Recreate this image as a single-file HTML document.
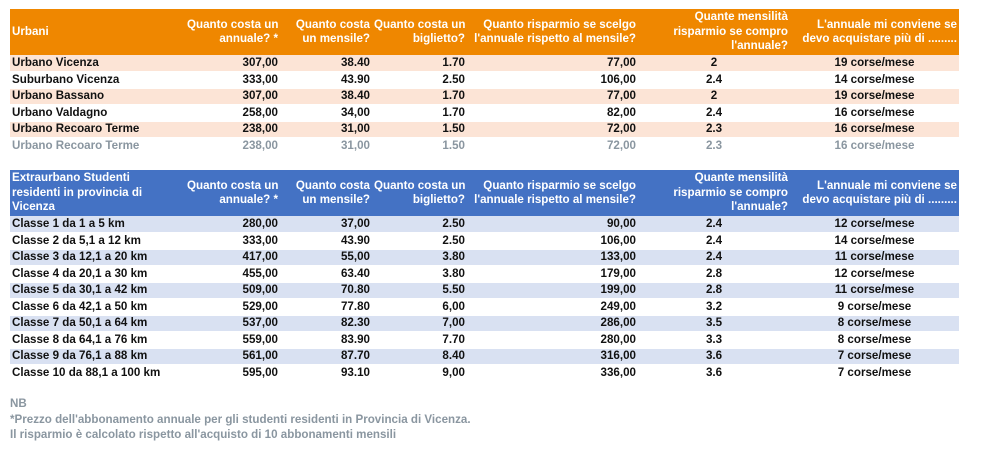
<!DOCTYPE html>
<html><head><meta charset="utf-8"><style>
body{margin:0;width:1004px;height:452px;background:#fff;font-family:"Liberation Sans",Arial,sans-serif;font-weight:bold;font-size:11.6px;color:#111;position:relative;overflow:hidden}
table{position:absolute;left:10px;border-collapse:collapse;table-layout:fixed;width:949px}
td{padding:0 2px;height:15.5px;line-height:14px;white-space:nowrap;overflow:hidden;border-bottom:1px solid #fff;box-sizing:border-box}
tr{height:16.5px}
td.r{text-align:right}td.c{text-align:center}
tr.h td{color:#fff;line-height:14.5px;vertical-align:middle;border:none;height:46px}
.o tr.h td{background:#ef8700}
.b tr.h td{background:#4472c4}
.o tr.a td{background:#fce4d6}
.b tr.a td{background:#d9e1f2}
tr.g td{color:#8a96a0}
.nb{position:absolute;left:10px;top:396px;color:#8a96a0;line-height:15.5px;font-size:11.6px}
</style></head><body>
<table class="o" style="top:9px">
<colgroup><col style="width:175px"><col style="width:95px"><col style="width:92px"><col style="width:95px"><col style="width:171px"><col style="width:152px"><col style="width:169px"></colgroup>
<tr class="h"><td>Urbani</td><td class="r">Quanto costa un<br>annuale? *</td><td class="r">Quanto costa<br>un mensile?</td><td class="r">Quanto costa un<br>biglietto?</td><td class="r">Quanto risparmio se scelgo<br>l'annuale rispetto al mensile?</td><td class="r">Quante mensilità<br>risparmio se compro<br>l'annuale?</td><td class="r">L'annuale mi conviene se<br>devo acquistare più di .........</td></tr>
<tr class="a"><td>Urbano Vicenza</td><td class="r">307,00</td><td class="r">38.40</td><td class="r">1.70</td><td class="r">77,00</td><td class="c">2</td><td class="c">19 corse/mese</td></tr>
<tr><td>Suburbano Vicenza</td><td class="r">333,00</td><td class="r">43.90</td><td class="r">2.50</td><td class="r">106,00</td><td class="c">2.4</td><td class="c">14 corse/mese</td></tr>
<tr class="a"><td>Urbano Bassano</td><td class="r">307,00</td><td class="r">38.40</td><td class="r">1.70</td><td class="r">77,00</td><td class="c">2</td><td class="c">19 corse/mese</td></tr>
<tr><td>Urbano Valdagno</td><td class="r">258,00</td><td class="r">34,00</td><td class="r">1.70</td><td class="r">82,00</td><td class="c">2.4</td><td class="c">16 corse/mese</td></tr>
<tr class="a"><td>Urbano Recoaro Terme</td><td class="r">238,00</td><td class="r">31,00</td><td class="r">1.50</td><td class="r">72,00</td><td class="c">2.3</td><td class="c">16 corse/mese</td></tr>
<tr class="g"><td>Urbano Recoaro Terme</td><td class="r">238,00</td><td class="r">31,00</td><td class="r">1.50</td><td class="r">72,00</td><td class="c">2.3</td><td class="c">16 corse/mese</td></tr>
</table>
<table class="b" style="top:170px">
<colgroup><col style="width:175px"><col style="width:95px"><col style="width:92px"><col style="width:95px"><col style="width:171px"><col style="width:152px"><col style="width:169px"></colgroup>
<tr class="h"><td>Extraurbano Studenti<br>residenti in provincia di<br>Vicenza</td><td class="r">Quanto costa un<br>annuale? *</td><td class="r">Quanto costa<br>un mensile?</td><td class="r">Quanto costa un<br>biglietto?</td><td class="r">Quanto risparmio se scelgo<br>l'annuale rispetto al mensile?</td><td class="r">Quante mensilità<br>risparmio se compro<br>l'annuale?</td><td class="r">L'annuale mi conviene se<br>devo acquistare più di .........</td></tr>
<tr class="a"><td>Classe 1 da 1 a 5 km</td><td class="r">280,00</td><td class="r">37,00</td><td class="r">2.50</td><td class="r">90,00</td><td class="c">2.4</td><td class="c">12 corse/mese</td></tr>
<tr><td>Classe 2 da 5,1 a 12 km</td><td class="r">333,00</td><td class="r">43.90</td><td class="r">2.50</td><td class="r">106,00</td><td class="c">2.4</td><td class="c">14 corse/mese</td></tr>
<tr class="a"><td>Classe 3 da 12,1 a 20 km</td><td class="r">417,00</td><td class="r">55,00</td><td class="r">3.80</td><td class="r">133,00</td><td class="c">2.4</td><td class="c">11 corse/mese</td></tr>
<tr><td>Classe 4 da 20,1 a 30 km</td><td class="r">455,00</td><td class="r">63.40</td><td class="r">3.80</td><td class="r">179,00</td><td class="c">2.8</td><td class="c">12 corse/mese</td></tr>
<tr class="a"><td>Classe 5 da 30,1 a 42 km</td><td class="r">509,00</td><td class="r">70.80</td><td class="r">5.50</td><td class="r">199,00</td><td class="c">2.8</td><td class="c">11 corse/mese</td></tr>
<tr><td>Classe 6 da 42,1 a 50 km</td><td class="r">529,00</td><td class="r">77.80</td><td class="r">6,00</td><td class="r">249,00</td><td class="c">3.2</td><td class="c">9 corse/mese</td></tr>
<tr class="a"><td>Classe 7 da 50,1 a 64 km</td><td class="r">537,00</td><td class="r">82.30</td><td class="r">7,00</td><td class="r">286,00</td><td class="c">3.5</td><td class="c">8 corse/mese</td></tr>
<tr><td>Classe 8 da 64,1 a 76 km</td><td class="r">559,00</td><td class="r">83.90</td><td class="r">7.70</td><td class="r">280,00</td><td class="c">3.3</td><td class="c">8 corse/mese</td></tr>
<tr class="a"><td>Classe 9 da 76,1 a 88 km</td><td class="r">561,00</td><td class="r">87.70</td><td class="r">8.40</td><td class="r">316,00</td><td class="c">3.6</td><td class="c">7 corse/mese</td></tr>
<tr><td>Classe 10 da 88,1 a 100 km</td><td class="r">595,00</td><td class="r">93.10</td><td class="r">9,00</td><td class="r">336,00</td><td class="c">3.6</td><td class="c">7 corse/mese</td></tr>
</table>
<div class="nb">NB<br>*Prezzo dell'abbonamento annuale per gli studenti residenti in Provincia di Vicenza.<br>Il risparmio è calcolato rispetto all'acquisto di 10 abbonamenti mensili</div>
</body></html>
